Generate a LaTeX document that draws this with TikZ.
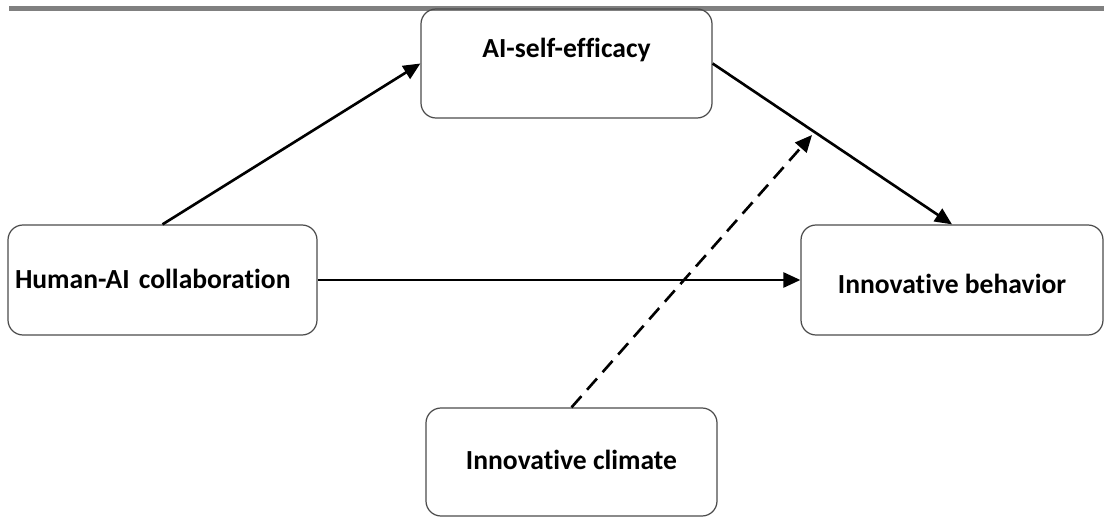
\documentclass[tikz,border=0pt]{standalone}
\usepackage{fontspec}
\setmainfont[Ligatures=NoCommon]{Carlito}
\usetikzlibrary{arrows.meta}

\begin{document}
\begin{tikzpicture}[
    boite/.style={draw=black!70, line width=0.7pt, rounded corners=0.3cm,
        minimum height=2.2cm, text height=0.58cm, text depth=0.3ex,
        font=\fontsize{15.7}{18}\selectfont\bfseries},
    fleche/.style={line width=1.5pt, -{Triangle[length=0.34cm, width=0.3cm]}},
    tirets/.style={fleche, dash pattern=on 0.3cm off 0.17cm}
]

% Cadre de l'image
\useasboundingbox (0,0) rectangle (22.08,10.36);

% Barre grise en haut
\fill[black!50] (0.18,10.14) rectangle (22.08,10.24);

% Les quatre variables
\node[boite, minimum width=5.82cm, minimum height=2.18cm, text depth=0.8cm] (eff) at (11.33,9.09) {AI-self-efficacy};
\node[boite, minimum width=6.18cm, text width=5.9cm, align=left, text depth=0.25cm] (hum) at (3.25,4.76) {Human-AI collaboration};
\node[boite, minimum width=6.04cm] (beh) at (19.04,4.76) {Innovative behavior};
\node[boite, minimum width=5.82cm, minimum height=2.16cm, text depth=0.28cm] (clim) at (11.43,1.12) {Innovative climate};

% Point d'arrivée de la modération
\coordinate (mod) at (16.24,7.66);

% Les liens
\draw[fleche] (hum.north) -- (eff.west);
\draw[fleche] (eff.east) -- (beh.north);
\draw[fleche] (hum.east) -- (beh.west);
\draw[tirets] (clim.north) -- (mod);

\end{tikzpicture}
\end{document}
